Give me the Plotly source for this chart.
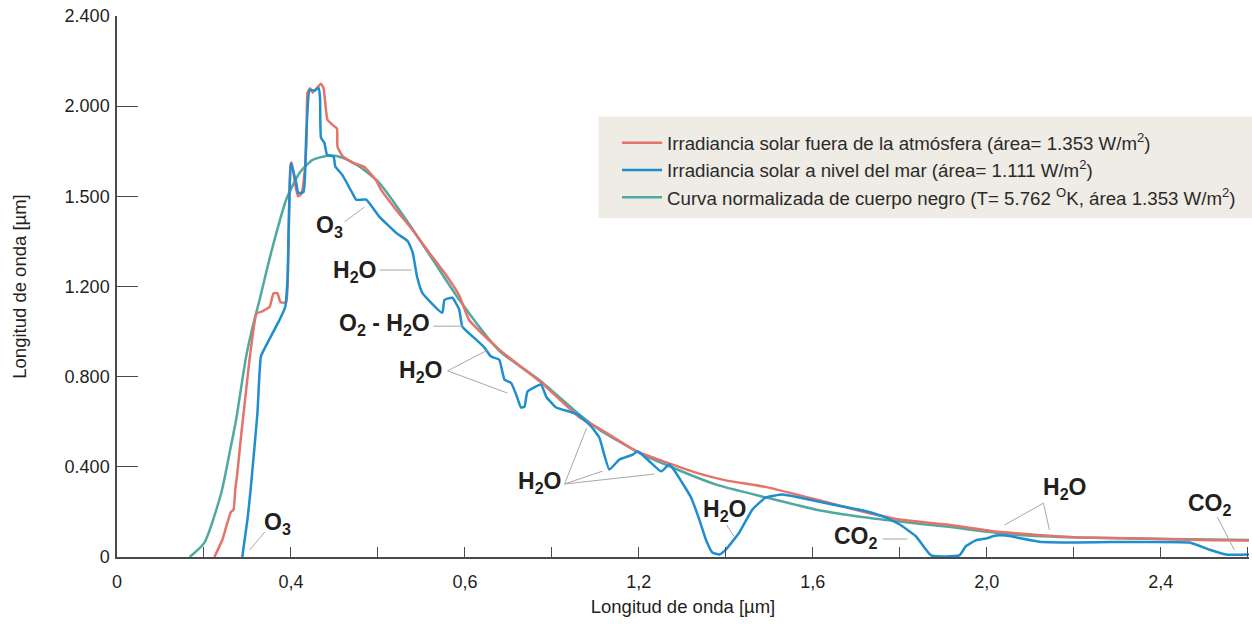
import plotly.graph_objects as go

# ---------------- data (wavelength in µm, irradiance) ----------------
wl_ext = [0.224, 0.243, 0.252, 0.262, 0.268, 0.272, 0.276, 0.286, 0.293, 0.305, 0.321, 0.334,
          0.351, 0.360, 0.369, 0.376, 0.389, 0.393, 0.399, 0.402, 0.409, 0.416, 0.424, 0.431,
          0.436, 0.438, 0.444, 0.450, 0.459, 0.469, 0.475, 0.484, 0.500, 0.506, 0.507, 0.518,
          0.541, 0.569, 0.596, 0.607, 0.642, 0.680, 0.718, 0.757, 0.787, 0.810, 0.879, 0.978,
          1.063, 1.109, 1.194, 1.263, 1.339, 1.400, 1.493, 1.608, 1.723, 1.800, 1.907, 2.021,
          2.137, 2.212, 2.366, 2.518, 2.607]
irr_ext = [0.0, 0.08, 0.14, 0.20, 0.21, 0.30, 0.36, 0.55, 0.67, 0.88, 1.08, 1.09,
           1.11, 1.17, 1.17, 1.13, 1.13, 1.25, 1.74, 1.75, 1.66, 1.60, 1.61, 1.70,
           1.86, 2.06, 2.08, 2.06, 2.08, 2.10, 2.08, 1.94, 1.91, 1.90, 1.82, 1.78,
           1.75, 1.73, 1.67, 1.63, 1.54, 1.45, 1.35, 1.25, 1.16, 1.05, 0.92, 0.77,
           0.62, 0.57, 0.47, 0.42, 0.37, 0.34, 0.31, 0.255, 0.197, 0.166, 0.144, 0.113,
           0.095, 0.086, 0.082, 0.074, 0.073]

wl_sea = [0.288, 0.300, 0.308, 0.323, 0.331, 0.346, 0.374, 0.387, 0.392, 0.400, 0.412, 0.417,
          0.429, 0.435, 0.443, 0.454, 0.464, 0.467, 0.469, 0.477, 0.483, 0.498, 0.502, 0.518,
          0.541, 0.550, 0.573, 0.603, 0.642, 0.669, 0.680, 0.690, 0.702, 0.748, 0.753, 0.771,
          0.787, 0.794, 0.826, 0.845, 0.860, 0.879, 0.891, 0.906, 0.918, 0.929, 0.937, 0.944,
          0.975, 0.987, 1.010, 1.040, 1.059, 1.090, 1.109, 1.132, 1.155, 1.186, 1.197, 1.224,
          1.251, 1.270, 1.285, 1.320, 1.339, 1.354, 1.369, 1.385, 1.400, 1.431, 1.461, 1.492,
          1.530, 1.569, 1.645, 1.723, 1.760, 1.800, 1.837, 1.872, 1.937, 1.952, 1.975, 1.998,
          2.021, 2.044, 2.128, 2.289, 2.466, 2.511, 2.550, 2.607]
irr_sea = [0.0, 0.166, 0.313, 0.64, 0.89, 0.95, 1.053, 1.11, 1.23, 1.748, 1.66, 1.615,
           1.62, 1.864, 2.072, 2.069, 2.08, 2.03, 1.86, 1.837, 1.784, 1.777, 1.732, 1.695,
           1.615, 1.585, 1.585, 1.51, 1.438, 1.40, 1.35, 1.243, 1.172, 1.083, 1.141, 1.15,
           1.097, 1.022, 0.964, 0.929, 0.889, 0.875, 0.787, 0.773, 0.72, 0.663, 0.667, 0.734,
           0.765, 0.711, 0.663, 0.645, 0.632, 0.58, 0.53, 0.388, 0.432, 0.454, 0.469, 0.425,
           0.38, 0.41, 0.374, 0.264, 0.166, 0.078, 0.02, 0.011, 0.033, 0.109, 0.21, 0.264,
           0.277, 0.264, 0.233, 0.203, 0.181, 0.144, 0.092, 0.007, 0.007, 0.048, 0.074, 0.082,
           0.095, 0.095, 0.066, 0.066, 0.064, 0.033, 0.011, 0.011]

wl_bb = [0.167, 0.201, 0.240, 0.259, 0.274, 0.297, 0.316, 0.328, 0.339, 0.358, 0.389, 0.420,
         0.450, 0.489, 0.519, 0.557, 0.603, 0.665, 0.726, 0.787, 0.879, 0.971, 1.063, 1.109,
         1.200, 1.277, 1.378, 1.493, 1.608, 1.723, 1.800, 1.906, 2.059, 2.212, 2.518, 2.607]
irr_bb = [0.0, 0.064, 0.286, 0.463, 0.61, 0.89, 1.053, 1.141, 1.23, 1.377, 1.585, 1.705,
          1.762, 1.781, 1.771, 1.732, 1.66, 1.496, 1.319, 1.141, 0.915, 0.785, 0.632, 0.565,
          0.463, 0.397, 0.321, 0.264, 0.21, 0.175, 0.157, 0.135, 0.10, 0.086, 0.078, 0.075]

x_tickvals = [0, 0.2, 0.4, 0.6, 0.8, 1.0, 1.2, 1.4, 1.6, 1.8, 2.0, 2.2, 2.4, 2.6]
x_ticktext = ["0", "", "0,4", "", "0,6", "", "1,2", "", "1,6", "", "2,0", "", "2,4", ""]
y_tickvals = [0, 0.4, 0.8, 1.2, 1.6, 2.0, 2.4]
y_ticktext = ["0", "0.400", "0.800", "1.200", "1.500", "2.000", "2.400"]

names = [
    "Irradiancia solar fuera de la atmósfera (área= 1.353 W/m<sup>2</sup>)",
    "Irradiancia solar a nivel del mar (área= 1.111 W/m<sup>2</sup>)",
    "Curva normalizada de cuerpo negro (T= 5.762 <sup>O</sup>K, área 1.353 W/m<sup>2</sup>)",
]

# absorption labels: text, x, y (data coords of left/middle)
label_text = ["O<sub>3</sub>", "O<sub>3</sub>", "H<sub>2</sub>O", "O<sub>2</sub> - H<sub>2</sub>O",
              "H<sub>2</sub>O", "H<sub>2</sub>O", "H<sub>2</sub>O", "CO<sub>2</sub>",
              "H<sub>2</sub>O", "CO<sub>2</sub>"]
label_x = [0.333, 0.452, 0.491, 0.505, 0.643, 0.917, 1.344, 1.643, 2.124, 2.459]
label_y = [0.149, 1.468, 1.268, 1.033, 0.823, 0.330, 0.208, 0.086, 0.302, 0.235]

# leader lines (x0, y0, x1, y1) in data coords
leaders = [
    (0.3051, 0.031, 0.3398, 0.111),
    (0.5234, 1.487, 0.5694, 1.553),
    (0.6039, 1.273, 0.6775, 1.273),
    (0.7272, 1.024, 0.7962, 1.024),
    (0.7602, 0.826, 0.8522, 0.918),
    (0.7602, 0.826, 0.8982, 0.727),
    (1.0292, 0.324, 1.0798, 0.572),
    (1.0292, 0.324, 1.1166, 0.381),
    (1.0292, 0.324, 1.2361, 0.368),
    (1.4016, 0.142, 1.4200, 0.089),
    (1.7602, 0.080, 1.8177, 0.080),
    (2.1303, 0.239, 2.0407, 0.142),
    (2.1303, 0.239, 2.1441, 0.120),
    (2.5303, 0.177, 2.5694, 0.031),
]

RED = "#e5736a"
BLUE = "#1f8ecf"
GREEN = "#4fa9a0"
FONT = "Liberation Sans, Arial, sans-serif"
TXT = "#231f20"
AX = "#4a4a4a"

fig = go.Figure()
fig.add_trace(go.Scatter(x=wl_bb, y=irr_bb, mode="lines", name=names[2], legendrank=3,
                         line=dict(color=GREEN, width=2.5, shape="spline", smoothing=0.6)))
fig.add_trace(go.Scatter(x=wl_ext, y=irr_ext, mode="lines", name=names[0], legendrank=1,
                         line=dict(color=RED, width=2.5, shape="spline", smoothing=0.4)))
fig.add_trace(go.Scatter(x=wl_sea, y=irr_sea, mode="lines", name=names[1], legendrank=2,
                         line=dict(color=BLUE, width=2.5, shape="spline", smoothing=0.4)))

for (x0, y0, x1, y1) in leaders:
    fig.add_shape(type="line", x0=x0, y0=y0, x1=x1, y1=y1, xref="x", yref="y",
                  line=dict(color="#a8a8a8", width=1))

for t, x, y in zip(label_text, label_x, label_y):
    fig.add_annotation(x=x, y=y, xref="x", yref="y", text="<b>" + t + "</b>",
                       showarrow=False, xanchor="left", yanchor="middle",
                       font=dict(family=FONT, size=23, color=TXT))

# legend background box (pixel-matched in paper coords)
PL, PW, PT, PH = 117, 1132, 16, 541
def px2paper_x(px):
    return (px - PL) / PW
def px2paper_y(py):
    return (PT + PH - py) / PH

fig.add_shape(type="rect", xref="paper", yref="paper",
              x0=px2paper_x(598.5), x1=px2paper_x(1252), y0=px2paper_y(218), y1=px2paper_y(116.5),
              fillcolor="#efebe5", line=dict(width=0), layer="below")

fig.update_layout(
    width=1252, height=624,
    margin=dict(l=PL, r=1252 - PL - PW, t=PT, b=624 - PT - PH),
    paper_bgcolor="white", plot_bgcolor="rgba(0,0,0,0)",
    font=dict(family=FONT, color=TXT),
    showlegend=True,
    legend=dict(x=px2paper_x(617), y=px2paper_y(124), xanchor="left", yanchor="top",
                bgcolor="rgba(0,0,0,0)", borderwidth=0, itemwidth=40,
                font=dict(family=FONT, size=18.7, color="#2a2a2a"), tracegroupgap=0),
    xaxis=dict(range=[0, 2.603], tickmode="array", tickvals=x_tickvals, ticktext=x_ticktext,
               ticks="inside", ticklen=10, tickwidth=1.3, tickcolor=AX,
               showline=True, linecolor=AX, linewidth=1.5, showgrid=False, zeroline=False,
               tickfont=dict(family=FONT, size=18, color=TXT), ticklabelstandoff=8,
               title=dict(text="Longitud de onda [µm]", font=dict(family=FONT, size=18.5, color=TXT),
                          standoff=9)),
    yaxis=dict(range=[0, 2.4], tickmode="array", tickvals=y_tickvals, ticktext=y_ticktext,
               ticks="inside", ticklen=21, tickwidth=1.3, tickcolor=AX,
               showline=True, linecolor=AX, linewidth=1.5, showgrid=False, zeroline=False,
               tickfont=dict(family=FONT, size=18, color=TXT), ticklabelstandoff=2,
               title=dict(text="Longitud de onda [µm]", font=dict(family=FONT, size=18.5, color=TXT),
                          standoff=33)),
)

fig.write_html("out.html")
